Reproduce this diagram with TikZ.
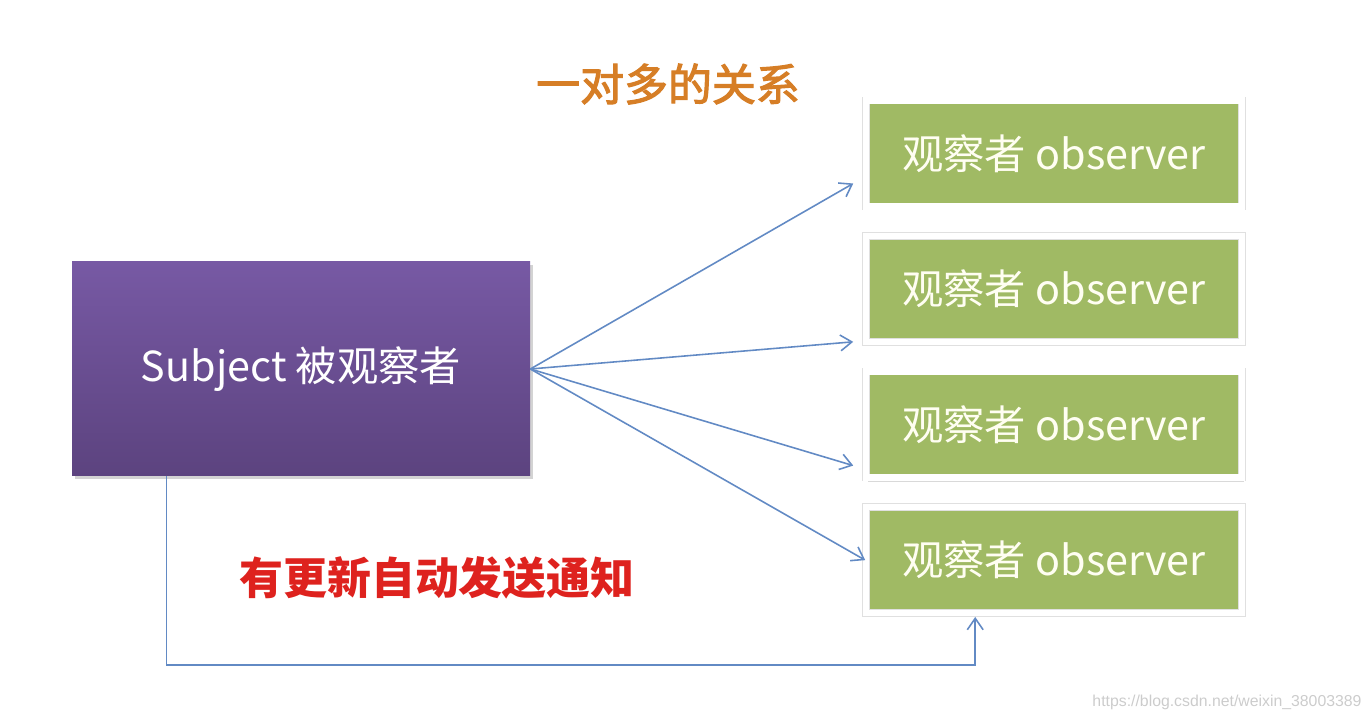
\documentclass[tikz,border=0pt]{standalone}
\usepackage{fontspec}
\setmainfont{Noto Sans CJK SC}
\newfontfamily\titlefont{Noto Sans CJK SC}[FakeBold=2.5]
\newfontfamily\urlfont{Liberation Sans}
\usetikzlibrary{arrows.meta, positioning, shadows}

\definecolor{obsgreen}{RGB}{160,186,100}
\definecolor{subjtop}{RGB}{119,89,164}
\definecolor{subjbottom}{RGB}{92,67,127}
\definecolor{linkblue}{RGB}{98,138,196}
\definecolor{titleorange}{RGB}{214,126,38}
\definecolor{noticered}{RGB}{222,34,30}

\begin{document}
\begin{tikzpicture}[node distance=0.44cm]
\useasboundingbox (0,0) rectangle (27.44,14.4);

% --- Define Styles ---
\tikzstyle{subject} = [rectangle, minimum width=9.16cm, minimum height=4.28cm, text centered, top color=subjtop, bottom color=subjbottom, text=white, font=\fontsize{23.5}{28}\selectfont, drop shadow={shadow xshift=0.6mm, shadow yshift=-0.6mm, opacity=0.35}]
\tikzstyle{observer} = [rectangle, minimum width=7.52cm, minimum height=2.12cm, text centered, draw=black!12, line width=0.3pt, double=white, double distance=0.13cm, outer sep=0.0755cm, fill=obsgreen, text=white!95!yellow, font=\fontsize{23.5}{28}\selectfont, drop shadow={shadow xshift=0.4mm, shadow yshift=-0.8mm, opacity=0.3}]
\tikzstyle{arrow} = [draw=linkblue, line width=0.9pt, -{Straight Barb[length=6.5pt, width=9pt]}]

% --- Nodes ---
\node (subj) [subject] at (6.02,7.02) {Subject 被观察者};

\node (obs1) [observer] at (21.08,11.33) {观察者 observer};
\node (obs2) [observer, below=of obs1] {观察者 observer};
\node (obs3) [observer, below=of obs2] {观察者 observer};
\node (obs4) [observer, below=of obs3] {观察者 observer};

\node (title) [text=titleorange, font=\titlefont\fontsize{25}{30}\selectfont] at (13.36,12.72) {一对多的关系};
\node (notice) [text=noticered, font=\fontsize{25}{30}\selectfont\bfseries] at (8.74,2.84) {有更新自动发送通知};
\node (url) [text=black!20, font=\urlfont\fontsize{9}{11}\selectfont] at (24.54,0.36) {https://blog.csdn.net/weixin\_38003389};

% --- Arrows ---
\draw [arrow] (subj.east) -- ([xshift=-0.18cm, yshift=-0.6cm]obs1.west);
\draw [arrow] (subj.east) -- ([xshift=-0.18cm, yshift=0.08cm]obs2.south west);
\draw [arrow] (subj.east) -- ([xshift=-0.18cm, yshift=-0.82cm]obs3.west);
\draw [arrow] (subj.east) -- ([xshift=0.06cm]obs4.west);
\draw [arrow] ([xshift=1.9cm]subj.south west) |- ([xshift=2.26cm, yshift=-0.96cm]obs4.south west) -- ([xshift=2.26cm]obs4.south west);

\end{tikzpicture}
\end{document}
